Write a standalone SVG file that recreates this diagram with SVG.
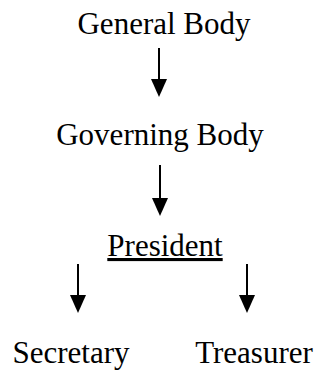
<svg xmlns="http://www.w3.org/2000/svg" width="320" height="370" viewBox="0 0 320 370">
  <style>
    .lbl { font-family: Liberation Serif, Times New Roman, Times, DejaVu Serif, Noto Serif, serif; font-size: 31px; fill: #000; text-anchor: middle; }
    .u { text-decoration: underline; }
    .conn { stroke: #000; stroke-width: 2; fill: none; marker-end: url(#head); }
  </style>
  <defs>
    <marker id="head" markerUnits="userSpaceOnUse" markerWidth="18" markerHeight="16" refX="0" refY="8" orient="auto" viewBox="0 0 18 16">
      <path d="M0,0 L18,8 L0,16 Z" fill="#000"/>
    </marker>
  </defs>
  <rect width="320" height="370" fill="#fff"/>
  <g id="connectors">
    <line class="conn" x1="159" y1="48" x2="159" y2="79"/>
    <line class="conn" x1="160" y1="165" x2="160" y2="198"/>
    <line class="conn" x1="78" y1="264" x2="78" y2="295"/>
    <line class="conn" x1="247" y1="264" x2="247" y2="295"/>
  </g>
  <g id="general-body"><text class="lbl" x="164" y="34">General Body</text></g>
  <g id="governing-body"><text class="lbl" x="160" y="145">Governing Body</text></g>
  <g id="president"><text class="lbl u" x="165" y="256">President</text></g>
  <g id="secretary"><text class="lbl" x="71" y="363">Secretary</text></g>
  <g id="treasurer"><text class="lbl" x="254" y="363">Treasurer</text></g>
</svg>
